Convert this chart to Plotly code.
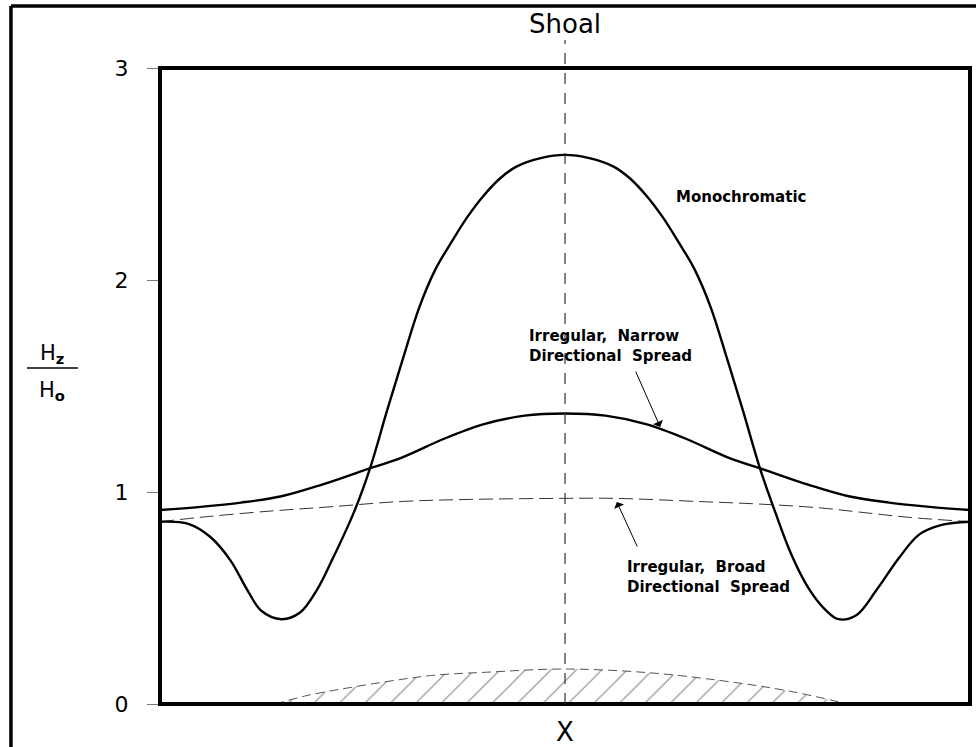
import plotly.graph_objects as go

# ---------------- data (x: distance across shoal, centre = 0; y: Hz/Ho) ----------------
mono_x = [-10.0, -9.3, -8.77, -8.27, -7.85, -7.5, -7.0, -6.55, -6.12, -5.75, -5.2, -4.8,
          -4.4, -4.0, -3.6, -3.2, -2.8, -2.4, -2.0, -1.6, -1.2, -0.6,
          0.0, 0.6, 1.2, 1.6, 2.0, 2.4, 2.8, 3.2, 3.6, 4.0, 4.4, 4.8,
          5.2, 5.6, 6.0, 6.4, 6.75, 7.2, 7.7, 8.25, 8.75, 9.3, 10.0]
mono_y = [0.86, 0.85, 0.79, 0.68, 0.54, 0.44, 0.40, 0.43, 0.54, 0.68, 0.91, 1.12,
          1.38, 1.63, 1.87, 2.05, 2.18, 2.30, 2.40, 2.48, 2.535, 2.575,
          2.59, 2.575, 2.535, 2.48, 2.40, 2.30, 2.18, 2.05, 1.87, 1.63, 1.38, 1.12,
          0.90, 0.70, 0.55, 0.45, 0.40, 0.42, 0.54, 0.69, 0.80, 0.845, 0.86]

narrow_x = [-10, -9, -8, -7, -6, -5, -4, -3, -2, -1, 0, 1, 2, 3, 4, 5, 6, 7, 8, 9, 10]
narrow_y = [0.915, 0.93, 0.95, 0.98, 1.035, 1.10, 1.165, 1.25, 1.32, 1.36, 1.37,
            1.36, 1.32, 1.25, 1.165, 1.10, 1.035, 0.98, 0.95, 0.93, 0.915]

broad_x = [-10.0, -8.77, -7.28, -5.80, -4.07, -2.35, 0.0, 1.23, 3.33, 4.81, 6.30, 7.28, 8.52, 10.0]
broad_y = [0.86, 0.885, 0.91, 0.93, 0.955, 0.965, 0.97, 0.97, 0.955, 0.943, 0.925, 0.905, 0.88, 0.86]

shoal_x = [-7.16, -6.37, -5.23, -3.90, -3.16, -1.93, 0.0, 2.17, 4.25, 5.56, 6.99]
shoal_y = [0.0, 0.04, 0.08, 0.12, 0.137, 0.15, 0.165, 0.146, 0.10, 0.06, 0.0]

y_ticks = [0, 1, 2, 3]
y_tick_labels = ["0", "1", "2", "3"]

FONT = "DejaVu Sans"

fig = go.Figure()

fig.add_trace(go.Scatter(
    x=shoal_x, y=shoal_y, mode="lines", line_shape="spline",
    line=dict(color="#555555", width=1, dash="9px,5px"),
    fill="tozeroy", fillcolor="white",
    fillpattern=dict(shape="/", fgcolor="#333333", bgcolor="white", size=18, solidity=0.07),
    hoverinfo="skip", showlegend=False))

fig.add_trace(go.Scatter(
    x=broad_x, y=broad_y, mode="lines", line_shape="spline",
    line=dict(color="#333333", width=1, dash="14px,6px"), showlegend=False))

fig.add_trace(go.Scatter(
    x=narrow_x, y=narrow_y, mode="lines", line_shape="spline",
    line=dict(color="black", width=2.4), showlegend=False))

fig.add_trace(go.Scatter(
    x=mono_x, y=mono_y, mode="lines", line_shape="spline",
    line=dict(color="black", width=2.4), showlegend=False))

fig.update_layout(
    width=976, height=747,
    margin=dict(l=160, r=6, t=68, b=43, pad=0),
    plot_bgcolor="white", paper_bgcolor="white",
    showlegend=False,
    font=dict(family=FONT, color="black"),
)

fig.update_xaxes(range=[-10, 10], showticklabels=False, ticks="", showgrid=False,
                 zeroline=False, showline=False)
fig.update_yaxes(range=[0, 3], tickvals=y_ticks, ticktext=y_tick_labels,
                 ticks="outside", ticklen=12, tickwidth=1, tickcolor="#777777",
                 tickfont=dict(family=FONT, size=22, color="black"),
                 ticklabelstandoff=14,
                 showgrid=False, zeroline=False, showline=False)

shapes = []
# plot frame
shapes.append(dict(type="rect", xref="paper", yref="paper", x0=0, x1=1, y0=0, y1=1,
                   line=dict(color="black", width=4), layer="above"))
# outer border (left and top edges visible)
shapes.append(dict(type="line", xref="paper", yref="paper", x0=-0.184, x1=-0.184, y0=-0.2, y1=1.0975,
                   line=dict(color="black", width=3.5)))
shapes.append(dict(type="line", xref="paper", yref="paper", x0=-0.184, x1=1.2, y0=1.0975, y1=1.0975,
                   line=dict(color="black", width=3.5)))
# shoal centre line
shapes.append(dict(type="line", xref="x", yref="paper", x0=0, x1=0, y0=0, y1=1.044,
                   line=dict(color="#333333", width=1.2, dash="11px,9px")))
# fraction bar of the y label
shapes.append(dict(type="line", xref="paper", yref="paper", x0=-0.1642, x1=-0.1012, y0=0.5283, y1=0.5283,
                   line=dict(color="black", width=1.5)))
fig.update_layout(shapes=shapes)

ann = []
ann.append(dict(text="Shoal", xref="x", yref="paper", x=0, y=1.0692, showarrow=False,
                font=dict(family=FONT, size=26), xanchor="center", yanchor="middle"))
ann.append(dict(text="X", xref="x", yref="paper", x=0, y=-0.044, showarrow=False,
                font=dict(family=FONT, size=26), xanchor="center", yanchor="middle"))
ann.append(dict(text="H<sub><b>z</b></sub>", xref="paper", yref="paper", x=-0.1328, y=0.5503, showarrow=False,
                font=dict(family=FONT, size=21), xanchor="center", yanchor="middle"))
ann.append(dict(text="H<sub><b>o</b></sub>", xref="paper", yref="paper", x=-0.1328, y=0.4921, showarrow=False,
                font=dict(family=FONT, size=21), xanchor="center", yanchor="middle"))
ann.append(dict(text="<b>Monochromatic</b>", xref="x", yref="y", x=4.35, y=2.39, showarrow=False,
                font=dict(family=FONT, size=15), xanchor="center", yanchor="middle"))
ann.append(dict(text="<b>Irregular,&nbsp; Narrow<br>Directional&nbsp; Spread</b>", xref="x", yref="y",
                x=-0.94, y=1.69, showarrow=False, align="left",
                font=dict(family=FONT, size=15), xanchor="left", yanchor="middle"))
ann.append(dict(text="", xref="x", yref="y", x=2.35, y=1.307, axref="x", ayref="y", ax=1.73, ay=1.575,
                showarrow=True, arrowhead=1, arrowsize=1.8, arrowwidth=1, arrowcolor="black"))
ann.append(dict(text="<b>Irregular,&nbsp; Broad<br>Directional&nbsp; Spread</b>", xref="x", yref="y",
                x=1.48, y=0.60, showarrow=False, align="left",
                font=dict(family=FONT, size=15), xanchor="left", yanchor="middle"))
ann.append(dict(text="", xref="x", yref="y", x=1.28, y=0.953, axref="x", ayref="y", ax=1.80, ay=0.736,
                showarrow=True, arrowhead=1, arrowsize=1.8, arrowwidth=1, arrowcolor="black"))
fig.update_layout(annotations=ann)

fig.write_html("out.html", config={"displayModeBar": False},
               post_script="document.body.style.margin='0';document.body.style.overflow='hidden';")
